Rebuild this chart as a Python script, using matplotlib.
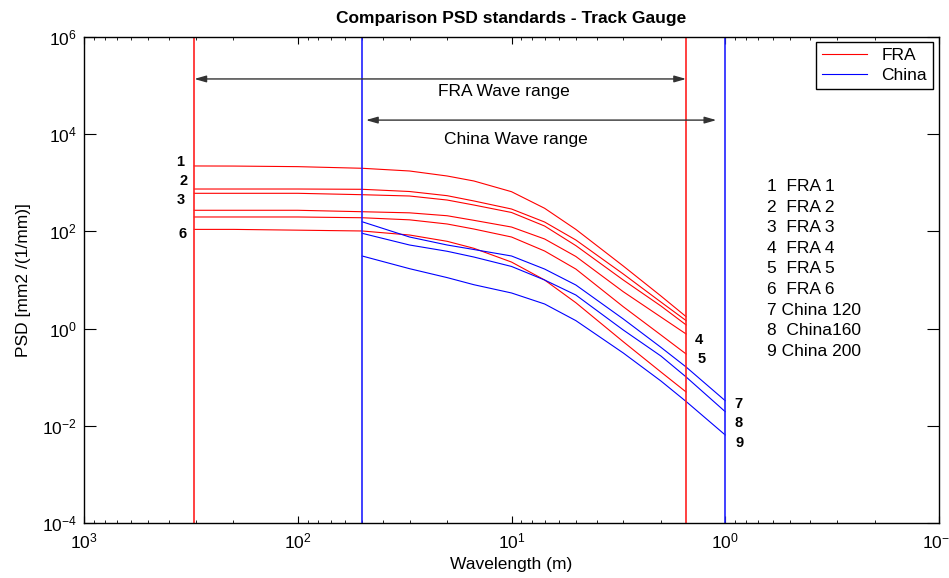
import matplotlib
matplotlib.use('Agg')
import matplotlib.pyplot as plt
from matplotlib.ticker import NullLocator

plt.rcParams['font.family'] = ['Liberation Sans', 'DejaVu Sans']
plt.rcParams['axes.unicode_minus'] = False

# wavelengths (m) and PSD values
lam_fra = [304.8, 200, 100, 50, 30, 20, 15, 10, 7, 5, 3, 2, 1.524]
fra1 = [2220, 2210, 2150, 1990, 1750, 1380, 1090, 656, 299, 110, 19.4, 4.69, 1.76]
fra2 = [745, 745, 745, 735, 662, 543, 423, 289, 156, 66.5, 13.3, 3.52, 1.46]
fra3 = [608, 608, 608, 569, 535, 442, 349, 245, 129, 51.0, 10.0, 2.92, 1.19]
fra4 = [272, 272, 272, 254, 241, 210, 169, 123, 69.8, 30.5, 5.74, 1.73, 0.774]
fra5 = [198, 198, 198, 191, 173, 142, 112, 76.7, 39.5, 16.8, 2.82, 0.74, 0.300]
fra6 = [110, 110, 106, 102, 84.3, 62.5, 44.9, 23.4, 10.0, 3.41, 0.537, 0.128, 0.0496]

lam_china = [50, 30, 20, 15, 10, 7, 5, 3, 2, 1.524, 1]
china120 = [158, 76.7, 52.5, 42.4, 31.2, 16.8, 7.89, 1.58, 0.412, 0.162, 0.0328]
china160 = [91.4, 52.5, 39.0, 29.7, 19.0, 10.0, 4.91, 0.936, 0.273, 0.101, 0.0195]
china200 = [31.2, 17.1, 11.2, 8.0, 5.41, 3.21, 1.46, 0.315, 0.0836, 0.0316, 0.00647]

fra_range = [304.8, 1.524]
china_range = [50, 1]

key_lines = ['1  FRA 1', '2  FRA 2', '3  FRA 3', '4  FRA 4', '5  FRA 5',
             '6  FRA 6', '7 China 120', '8  China160', '9 China 200']

fig = plt.figure(figsize=(9.49, 5.78), dpi=100)
ax = fig.add_axes([84/949, 55/578, 855/949, 486/578])

fra = [fra1, fra2, fra3, fra4, fra5, fra6]
china = [china120, china160, china200]
for i, v in enumerate(fra):
    ax.plot(lam_fra, v, color='r', lw=0.8, label='FRA' if i == 0 else None)
for i, v in enumerate(china):
    ax.plot(lam_china, v, color='b', lw=0.8, label='China' if i == 0 else None)

for l in fra_range:
    ax.axvline(l, color='#ff2020', lw=1.2)
for l in china_range:
    ax.axvline(l, color='#2020ff', lw=1.2)

ax.set_xscale('log')
ax.set_yscale('log')
ax.set_xlim(1000, 0.1)
ax.set_ylim(1e-4, 1e6)
ax.set_yticks([1e-4, 1e-2, 1e0, 1e2, 1e4, 1e6])
ax.yaxis.set_minor_locator(NullLocator())

# wave range arrows
arr = dict(arrowstyle='<|-|>,head_length=0.7,head_width=0.2', color='#333333',
           lw=1.0, shrinkA=0, shrinkB=0)
ax.annotate('', xy=(fra_range[1], 1.37e5), xytext=(fra_range[0], 1.37e5), arrowprops=arr)
ax.annotate('', xy=(1.1, 1.95e4), xytext=(48, 1.95e4), arrowprops=arr)
ax.text(10.8, 7.4e4, 'FRA Wave range', ha='center', va='center', fontsize=12.5)
ax.text(9.5, 7960, 'China Wave range', ha='center', va='center', fontsize=12.5)

# curve numbers
nums = [('1', 0.112, 0.743), ('2', 0.116, 0.704), ('3', 0.113, 0.665),
        ('6', 0.115, 0.595), ('4', 0.719, 0.377), ('5', 0.722, 0.337),
        ('7', 0.765, 0.245), ('8', 0.766, 0.206), ('9', 0.767, 0.165)]
for t, fx, fy in nums:
    ax.text(fx, fy, t, transform=ax.transAxes, ha='center', va='center',
            fontsize=10.5, fontweight='bold')

for i, t in enumerate(key_lines):
    ax.text(0.799, 0.692 - i*0.0423, t, transform=ax.transAxes,
            ha='left', va='center', fontsize=12.5)

ax.tick_params(which='both', direction='in', top=True, right=True, labelsize=12.5)
ax.tick_params(axis='y', which='major', length=8.5, pad=5)
ax.tick_params(axis='x', which='major', length=5, pad=6)
ax.tick_params(axis='x', which='minor', length=2.5)
for s in ax.spines.values():
    s.set_linewidth(1.0)

ax.set_title('Comparison PSD standards - Track Gauge', fontsize=12.5,
             fontweight='bold', pad=10)
ax.set_xlabel('Wavelength (m)', fontsize=12.5, labelpad=4)
ax.set_ylabel('PSD [mm2 /(1/mm)]', fontsize=12.5, labelpad=8)

leg = ax.legend(loc='upper right', bbox_to_anchor=(0.993, 0.99), borderaxespad=0,
                fontsize=12.5, fancybox=False, edgecolor='black', framealpha=1,
                handlelength=2.6, borderpad=0.35, labelspacing=0.25)
leg.get_frame().set_linewidth(1.0)

plt.savefig('out.png', dpi=100)
